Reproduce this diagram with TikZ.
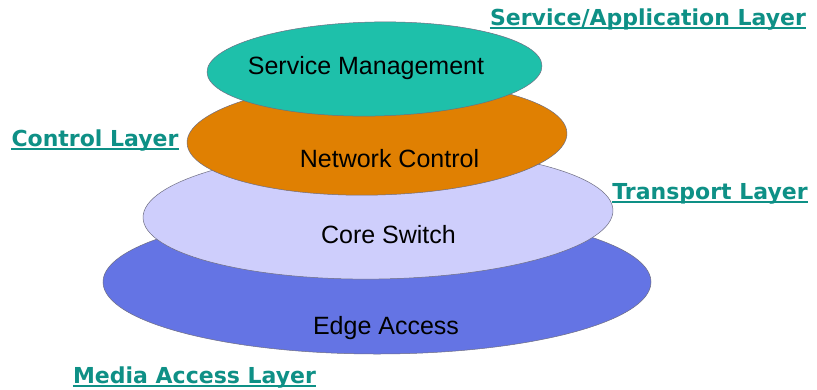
\documentclass[tikz,border=0pt]{standalone}
\usepackage{fontspec}
\setmainfont{Liberation Sans}
\newfontfamily\lblfont{DejaVu Sans}[BoldFont={DejaVu Sans Bold}]
\usetikzlibrary{shapes.geometric}

\definecolor{tealtxt}{RGB}{14,144,134}
\definecolor{svcfill}{RGB}{30,192,170}
\definecolor{ctlfill}{RGB}{224,128,2}
\definecolor{corefill}{RGB}{206,206,252}
\definecolor{edgefill}{RGB}{100,116,228}
\definecolor{rim}{RGB}{110,110,130}

\tikzset{
  disc/.style={ellipse, draw=rim, line width=0.5pt, inner sep=0pt},
  caption/.style={anchor=base, font=\fontsize{25}{30}\selectfont, inner sep=0pt},
  lbl/.style={anchor=base, text=tealtxt, inner sep=0pt,
    font=\lblfont\bfseries\fontsize{22}{26}\selectfont},
  ul/.style={draw=tealtxt, line width=1.6pt}
}

\begin{document}
\begin{tikzpicture}[x=1pt, y=-1pt]
  \useasboundingbox[fill=white] (0,0) rectangle (817,389);
  % layers, bottom one first
  \node[disc, fill=edgefill, minimum width=548pt, minimum height=144pt] (edge) at (377,282) {};
  \node[disc, fill=corefill, minimum width=470pt, minimum height=130pt, rotate=0.9] (core) at (378,214) {};
  \node[disc, fill=ctlfill, minimum width=380pt, minimum height=114pt, rotate=1.5] (ctl) at (377,138) {};
  \node[disc, fill=svcfill, minimum width=335pt, minimum height=94pt, rotate=1.1] (svc) at (374.5,69) {};

  \node[caption] (svctxt) at (366,74) {Service Management};
  \node[caption] (ctltxt) at (389.5,167) {Network Control};
  \node[caption] (coretxt) at (388.5,243) {Core Switch};
  \node[caption] (edgetxt) at (386,334) {Edge Access};

  % layer names
  \node[lbl] (app) at (648,25) {Service/Application Layer};
  \node[lbl] (control) at (95,146) {Control Layer};
  \node[lbl] (transport) at (710,199) {Transport Layer};
  \node[lbl] (media) at (194.5,383) {Media Access Layer};
  \foreach \l in {app,control,transport,media}
    \draw[ul] ([yshift=-3pt]\l.base west) -- ([yshift=-3pt]\l.base east);
\end{tikzpicture}
\end{document}
